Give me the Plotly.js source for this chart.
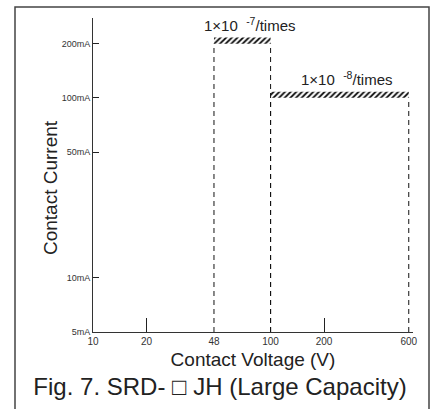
<!DOCTYPE html>
<html>
<head>
<meta charset="utf-8">
<script src="https://cdn.plot.ly/plotly-3.0.1.min.js"></script>
<style>html,body{margin:0;padding:0;background:#fff;}#chart{width:430px;height:409px;}</style>
</head>
<body>
<div id="chart"></div>
<script>
// ---- data ----
const bandVoltageStart = [48, 100];
const bandVoltageEnd = [100, 600];
const bandCurrent = [200, 100];
const rateLabels = ['1×10  <sup>-7</sup>/times', '1×10  <sup>-8</sup>/times'];
const xTickVals = [10, 20, 48, 100, 200, 600];
const xTickText = ['10', '20', '48', '100', '200', '600'];
const xMinorTicks = [20, 200];
const yTickVals = [5, 10, 50, 100, 200];
const yTickText = ['5mA', '10mA', '50mA', '100mA', '200mA'];

// ---- styling helpers ----
const font = '"Liberation Sans", Arial, Helvetica, sans-serif';
const narrow = '"Liberation Sans Narrow", "Arial Narrow", "Liberation Sans", Arial, sans-serif';
const bandThickness = 1.08; // hatch band drawn just above each limit (multiplicative on log axis)
const yMin = 5;
const xRange = [1, 2.802];
const yRange = [Math.log10(5), Math.log10(5) + 314 / 180];

const traces = [];

// dashed vertical boundary lines (each band's left and right edge)
const dx = [], dy = [];
for (let i = 0; i < bandCurrent.length; i++) {
  dx.push(bandVoltageStart[i], bandVoltageStart[i], null);
  dy.push(yMin, bandCurrent[i], null);
  dx.push(bandVoltageEnd[i], bandVoltageEnd[i], null);
  dy.push(yMin, bandCurrent[i], null);
}
traces.push({
  x: dx, y: dy, type: 'scatter', mode: 'lines', xaxis: 'x', yaxis: 'y',
  line: {color: '#111', width: 1, dash: '5px,4px'},
  hoverinfo: 'skip', showlegend: false
});

// hatched bands
for (let i = 0; i < bandCurrent.length; i++) {
  const x0 = bandVoltageStart[i], x1 = bandVoltageEnd[i];
  const y0 = bandCurrent[i], y1 = bandCurrent[i] * bandThickness;
  traces.push({
    x: [x0, x1, x1, x0, x0], y: [y0, y0, y1, y1, y0],
    type: 'scatter', mode: 'lines', fill: 'toself', xaxis: 'x', yaxis: 'y',
    line: {width: 0, color: 'rgba(0,0,0,0)'},
    fillcolor: 'rgba(0,0,0,0)',
    fillpattern: {shape: '/', fgcolor: '#000', bgcolor: 'rgba(255,255,255,0)', size: 4, solidity: 0.45},
    hoverinfo: 'skip', showlegend: false
  });
}

// tick marks at 20 and 200 via overlay axis
traces.push({x: xMinorTicks, y: [yMin, yMin], type: 'scatter', mode: 'markers',
  marker: {opacity: 0}, xaxis: 'x2', yaxis: 'y', hoverinfo: 'skip', showlegend: false});

const annotations = [];
for (let i = 0; i < bandCurrent.length; i++) {
  annotations.push({
    xref: 'x', yref: 'y',
    x: (Math.log10(bandVoltageStart[i]) + Math.log10(bandVoltageEnd[i])) / 2,
    y: Math.log10(bandCurrent[i] * bandThickness),
    text: rateLabels[i], showarrow: false, yanchor: 'bottom', yshift: 2, xshift: 7,
    font: {family: font, size: 15, color: '#222'}
  });
}
annotations.push({
  xref: 'paper', yref: 'paper', x: -0.172, y: 0.46, textangle: -90,
  text: 'Contact Current', showarrow: false,
  font: {family: font, size: 19, color: '#222'}
});

const layout = {
  width: 430, height: 409,
  margin: {l: 93, r: 17, t: 18, b: 77, pad: 0},
  paper_bgcolor: '#fff', plot_bgcolor: '#fff',
  showlegend: false,
  font: {family: font, color: '#222'},
  title: {
    text: 'Fig. 7. SRD- □ JH (Large Capacity)',
    font: {family: font, size: 24, color: '#222'},
    xref: 'container', yref: 'container', x: 220 / 430, y: 1 - 387 / 409,
    xanchor: 'center', yanchor: 'middle'
  },
  xaxis: {
    type: 'log', range: xRange, showgrid: false, zeroline: false,
    showline: true, linecolor: '#333', linewidth: 1,
    tickvals: xTickVals, ticktext: xTickText, ticks: '',
    tickfont: {family: narrow, size: 10, color: '#333'},
    title: {text: 'Contact Voltage (V)', font: {family: font, size: 19, color: '#222'}, standoff: 6},
    fixedrange: true
  },
  xaxis2: {
    type: 'log', range: xRange, overlaying: 'x', anchor: 'y', showgrid: false, zeroline: false,
    showline: false, tickvals: xMinorTicks, ticks: 'inside', ticklen: 14, tickwidth: 1, tickcolor: '#222',
    showticklabels: false, side: 'bottom'
  },
  yaxis: {
    type: 'log', range: yRange, showgrid: false, zeroline: false,
    showline: true, linecolor: '#333', linewidth: 1,
    tickvals: yTickVals, ticktext: yTickText, ticks: 'inside', ticklen: 6, tickcolor: '#222',
    tickfont: {family: narrow, size: 9, color: '#333'},
    fixedrange: true
  },
  shapes: [{
    type: 'rect', xref: 'paper', yref: 'paper',
    x0: (15 - 93) / 320, x1: (429 - 93) / 320, y0: (332 - 420) / 314, y1: (332 - 7) / 314,
    line: {color: '#444', width: 1.5}, fillcolor: 'rgba(0,0,0,0)', layer: 'below'
  }],
  annotations: annotations
};

Plotly.newPlot('chart', traces, layout, {displayModeBar: false, staticPlot: true});
</script>
</body>
</html>
